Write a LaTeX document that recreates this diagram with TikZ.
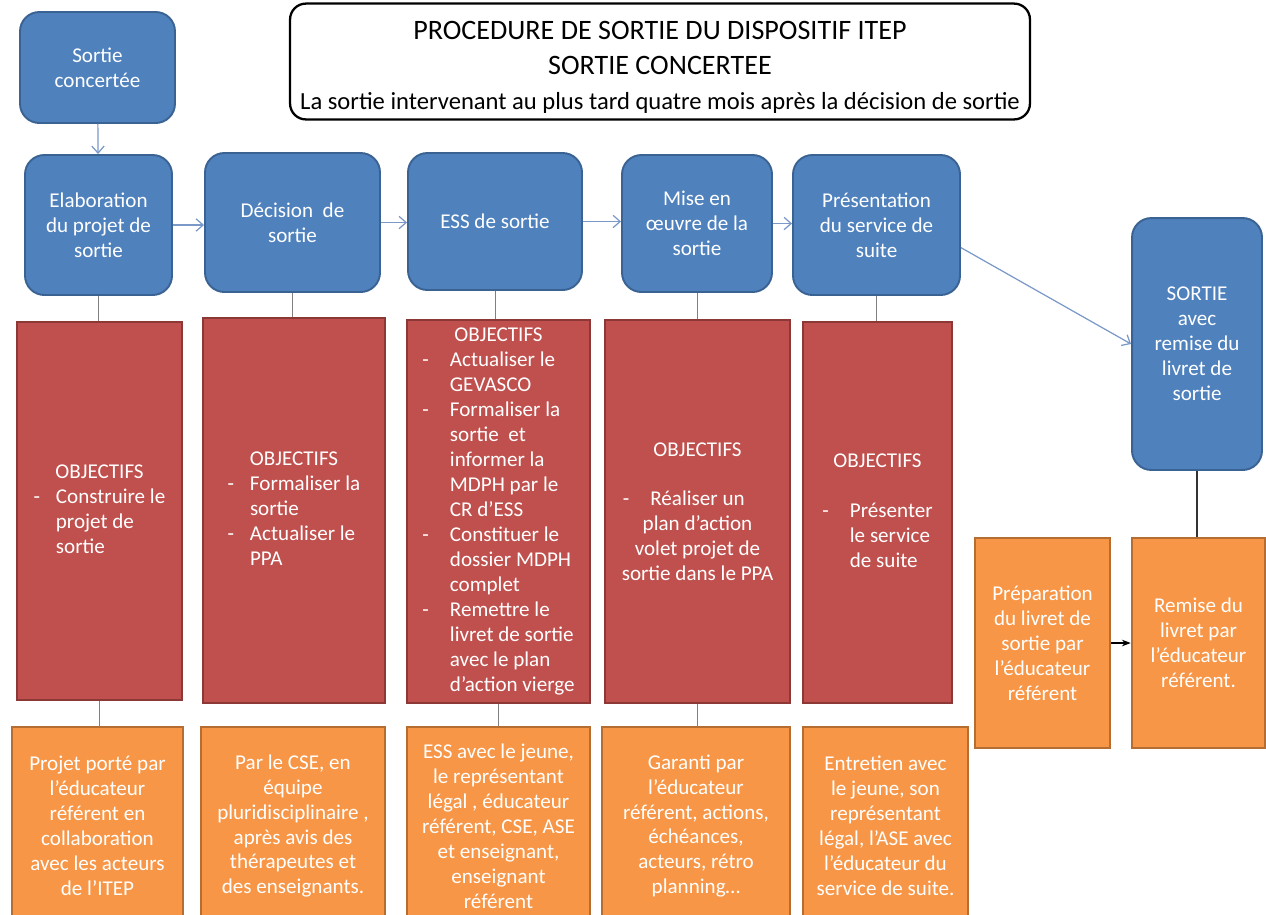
\documentclass[tikz,border=0pt]{standalone}
\usepackage{fontspec}
\setmainfont{Carlito}
\usetikzlibrary{arrows.meta}

\definecolor{bleu}{HTML}{4F81BD}
\definecolor{bleubord}{HTML}{3A6394}
\definecolor{rouge}{HTML}{C0504D}
\definecolor{rougebord}{HTML}{8C3836}
\definecolor{orangefond}{HTML}{F79646}
\definecolor{orangebord}{HTML}{B66D31}
\definecolor{fleche}{HTML}{7A98C8}

\begin{document}
\begin{tikzpicture}[x=0.02cm, y=-0.02cm,
  titre/.style = {draw=black, line width=1.3pt, rounded corners=9pt, align=center, font=\fontsize{16}{20}\selectfont},
  etape/.style = {draw=bleubord, fill=bleu, line width=1.1pt, rounded corners=11pt, text=white, align=center, inner sep=2pt, font=\fontsize{12}{14.2}\selectfont},
  objectif/.style = {draw=rougebord, fill=rouge, line width=1.1pt, text=white, align=center, inner sep=1pt, font=\fontsize{12}{14.2}\selectfont},
  acteur/.style = {draw=orangebord, fill=orangefond, line width=1.5pt, text=white, align=center, inner sep=2pt, font=\fontsize{12}{14.2}\selectfont},
  lien/.style = {draw=gray, thin},
  suite/.style = {draw=fleche, line width=0.7pt, -{Straight Barb[length=4pt, width=7pt]}}]

\clip (0,0) rectangle (1266,914);

% Title
\node[titre, minimum width=14.8cm, minimum height=2.26cm] (titre) at (660,61.5) {\rule{0pt}{17pt}PROCEDURE DE SORTIE DU DISPOSITIF ITEP\\SORTIE CONCERTEE\\{\fontsize{14}{20}\selectfont La sortie intervenant au plus tard quatre mois après la décision de sortie}};

% Steps
\node[etape, minimum width=3.1cm, minimum height=2.22cm] (concertee) at (97.5,67.5) {Sortie\\concertée};
\node[etape, minimum width=2.94cm, minimum height=2.8cm] (elab) at (98.5,225) {Elaboration\\du projet de\\sortie};
\node[etape, minimum width=3.5cm, minimum height=2.78cm] (decision) at (292.5,222.5) {Décision\ \ de\\sortie};
\node[etape, minimum width=3.48cm, minimum height=2.74cm] (ess) at (495,221.5) {ESS de sortie};
\node[etape, minimum width=3cm, minimum height=2.74cm] (mise) at (697,223.5) {Mise en\\œuvre de la\\sortie};
\node[etape, minimum width=3.34cm, minimum height=2.8cm] (presentation) at (876.5,225) {Présentation\\du service de\\suite};
\node[etape, minimum width=2.6cm, minimum height=5.04cm] (sortie) at (1197,344) {SORTIE\\avec\\remise du\\livret de\\sortie};

% Objectives
\node[objectif, minimum width=3.3cm, minimum height=7.56cm] (obj1) at (99.5,511) {%
  \begin{tabular}{@{}l@{\hspace{9pt}}l@{}}
  \multicolumn{2}{c}{OBJECTIFS}\\
  - & Construire le\\
    & projet de\\
    & sortie
  \end{tabular}};
\node[objectif, minimum width=3.64cm, minimum height=7.7cm] (obj2) at (294,510.5) {%
  \begin{tabular}{@{}l@{\hspace{9pt}}l@{}}
  \multicolumn{2}{c}{OBJECTIFS}\\
  - & Formaliser la\\
    & sortie\\
  - & Actualiser le\\
    & PPA
  \end{tabular}};
\node[objectif, minimum width=3.66cm, minimum height=7.66cm] (obj3) at (498.5,511.5) {%
  \begin{tabular}{@{}l@{\hspace{12pt}}l@{}}
  \multicolumn{2}{c}{OBJECTIFS}\\
  - & Actualiser le\\
    & GEVASCO\\
  - & Formaliser la\\
    & sortie\ \ et\\
    & informer la\\
    & MDPH par le\\
    & CR d’ESS\\
  - & Constituer le\\
    & dossier MDPH\\
    & complet\\
  - & Remettre le\\
    & livret de sortie\\
    & avec le plan\\
    & d’action vierge
  \end{tabular}};
\node[objectif, minimum width=3.7cm, minimum height=7.66cm] (obj4) at (697.5,511.5) {OBJECTIFS\\[14pt]\llap{-\hspace{12pt}}Réaliser un\\plan d’action\\volet projet de\\sortie dans le PPA};
\node[objectif, minimum width=2.98cm, minimum height=7.62cm] (obj5) at (877.5,512.5) {%
  \begin{tabular}{@{}l@{\hspace{12pt}}l@{}}
  \multicolumn{2}{c}{OBJECTIFS}\\[14pt]
  - & Présenter\\
    & le service\\
    & de suite
  \end{tabular}};

% Actors
\node[acteur, minimum width=3.42cm, minimum height=3.96cm] (acteur1) at (97.5,826) {Projet porté par\\l’éducateur\\référent en\\collaboration\\avec les acteurs\\de l’ITEP};
\node[acteur, minimum width=3.68cm, minimum height=3.96cm] (acteur2) at (293,826) {Par le CSE, en\\équipe\\pluridisciplinaire ,\\après avis des\\thérapeutes et\\des enseignants.};
\node[acteur, minimum width=3.66cm, minimum height=3.96cm] (acteur3) at (498.5,826) {ESS avec le jeune,\\le représentant\\légal , éducateur\\référent, CSE, ASE\\et enseignant,\\enseignant\\référent};
\node[acteur, minimum width=3.76cm, minimum height=3.96cm] (acteur4) at (696,826) {Garanti par\\l’éducateur\\référent, actions,\\échéances,\\acteurs, rétro\\planning…};
\node[acteur, minimum width=3.3cm, minimum height=3.96cm] (acteur5) at (885.5,826) {Entretien avec\\le jeune, son\\représentant\\légal, l’ASE avec\\l’éducateur du\\service de suite.};
\node[acteur, minimum width=2.7cm, minimum height=4.2cm] (prep) at (1042.5,643) {Préparation\\du livret de\\sortie par\\l’éducateur\\référent};
\node[acteur, minimum width=2.66cm, minimum height=4.2cm] (remise) at (1198.5,643) {Remise du\\livret par\\l’éducateur\\référent.};

% Lines
\foreach \a/\b in {elab/obj1, decision/obj2, ess/obj3, mise/obj4, presentation/obj5, obj1/acteur1, obj3/acteur3, obj4/acteur4} {
  \draw[lien] (\a.south) -- (\a.south |- \b.north);
}

% Arrows
\draw[suite] (concertee) -- (elab);
\draw[suite] (elab.east) -- (elab.east -| decision.west);
\draw[suite] (decision.east) -- (decision.east -| ess.west);
\draw[suite] (ess.east) -- (ess.east -| mise.west);
\draw[suite] (mise.east) -- (mise.east -| presentation.west);
\draw[suite] (presentation.-15) -- (sortie.west);
\draw[black!80, thick] (sortie.south) -- (sortie.south |- remise.north);
\draw[black, thick, -{Stealth[length=5pt]}] (prep) -- (remise);

\end{tikzpicture}
\end{document}
